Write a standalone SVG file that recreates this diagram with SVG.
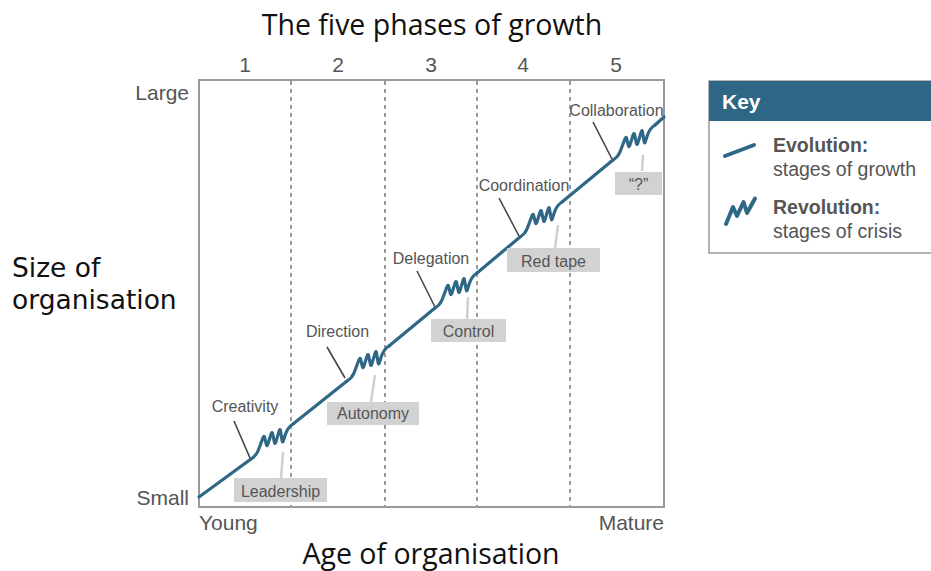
<svg xmlns="http://www.w3.org/2000/svg" width="931" height="571" viewBox="0 0 931 571">
<style>
.big{font-family:"Open Sans","Liberation Sans",sans-serif;font-size:28.5px;fill:#111}
.ylab{font-family:"DejaVu Sans","Open Sans",sans-serif;font-size:26.5px;fill:#111}
.ax{font-family:"Liberation Sans",Arial,sans-serif;font-size:21px;fill:#555}
.lbl{font-family:"Liberation Sans",Arial,sans-serif;font-size:16px;fill:#555;text-anchor:middle}
.box{fill:#d2d2d2}
.lead{stroke:#444;stroke-width:1.6;fill:none}
.leadl{stroke:#cfcfcf;stroke-width:2.5;fill:none}
.curve{stroke:#2f6787;stroke-width:3.2;fill:none;stroke-linecap:round;stroke-linejoin:round}
.dash{stroke:#9a9a9a;stroke-width:2;stroke-dasharray:4 4;fill:none}
.kb{font-family:"Liberation Sans",Arial,sans-serif;font-size:19.5px;font-weight:bold;fill:#555}
.kt{font-family:"Liberation Sans",Arial,sans-serif;font-size:19.5px;fill:#555}
</style>
<defs>
<path id="rev" d="M0,0 Q5,-3 7,-8 L11.8,-20.8 Q13,-24 13.6,-21.6 L15.4,-14.4 Q16,-12 17,-15.2 L20,-24.8 Q21,-28 21.6,-25.2 L23.4,-16.8 Q24,-14 25,-17.4 L28,-27.6 Q29,-31 29.5,-28 L31,-19 Q31.5,-16 32.2,-18 L34.5,-25 Q37,-32 42,-35"/>
</defs>
<rect width="931" height="571" fill="#fff"/>
<text class="big" x="432" y="35" text-anchor="middle" font-size="29.5">The five phases of growth</text>
<g id="phases" class="ax" text-anchor="middle" font-size="20">
<text x="245" y="72">1</text>
<text x="338" y="72">2</text>
<text x="431" y="72">3</text>
<text x="523" y="72">4</text>
<text x="616" y="72">5</text>
</g>
<g id="axes">
<rect x="199" y="80" width="465" height="427" fill="none" stroke="#9a9a9a" stroke-width="2"/>
<line class="dash" x1="291" y1="81" x2="291" y2="506"/>
<line class="dash" x1="385" y1="81" x2="385" y2="506"/>
<line class="dash" x1="477" y1="81" x2="477" y2="506"/>
<line class="dash" x1="570" y1="81" x2="570" y2="506"/>
<text class="ax" x="189" y="100" text-anchor="end">Large</text>
<text class="ax" x="189" y="505" text-anchor="end">Small</text>
<text class="ax" x="199" y="530">Young</text>
<text class="ax" x="664" y="530" text-anchor="end">Mature</text>
<text class="big" x="431" y="564" text-anchor="middle" font-size="29">Age of organisation</text>
<text class="ylab"><tspan x="12" y="277">Size of</tspan><tspan x="12" y="308.5">organisation</tspan></text>
</g>
<g id="connectors">
<line class="lead" x1="234" y1="421" x2="250" y2="458"/>
<line class="leadl" x1="283" y1="452" x2="281" y2="478"/>
<line class="lead" x1="327" y1="347" x2="345" y2="378"/>
<line class="leadl" x1="375" y1="375" x2="371" y2="402"/>
<line class="lead" x1="417" y1="271" x2="435" y2="307"/>
<line class="leadl" x1="468" y1="297" x2="467" y2="319"/>
<line class="lead" x1="499" y1="198" x2="519" y2="236"/>
<line class="leadl" x1="558" y1="225" x2="555" y2="248"/>
<line class="lead" x1="593" y1="122" x2="612" y2="159"/>
<line class="leadl" x1="643" y1="155" x2="642" y2="171"/>
</g>
<g id="curve" class="curve">
<path d="M199,497 L251,459"/>
<use href="#rev" x="251" y="459"/>
<path d="M293,424 L347,381"/>
<use href="#rev" x="347" y="381"/>
<path d="M389,346 L435,308"/>
<use href="#rev" x="435" y="308"/>
<path d="M477,273 L520,237"/>
<use href="#rev" x="520" y="237"/>
<path d="M562,202 L613,160"/>
<use href="#rev" x="613" y="160"/>
<path d="M655,125 L664,117"/>
</g>
<g id="phase1">
<text class="lbl" x="245" y="412">Creativity</text>
<rect class="box" x="234" y="478" width="93" height="24"/>
<text class="lbl" x="280.5" y="496.5">Leadership</text>
</g>
<g id="phase2">
<text class="lbl" x="337.5" y="337">Direction</text>
<rect class="box" x="327" y="402" width="92" height="23"/>
<text class="lbl" x="373" y="419">Autonomy</text>
</g>
<g id="phase3">
<text class="lbl" x="431" y="264">Delegation</text>
<rect class="box" x="431" y="319" width="75" height="23"/>
<text class="lbl" x="468.5" y="336.5">Control</text>
</g>
<g id="phase4">
<text class="lbl" x="524" y="191">Coordination</text>
<rect class="box" x="507" y="248" width="93" height="24"/>
<text class="lbl" x="553.5" y="266.5">Red tape</text>
</g>
<g id="phase5">
<text class="lbl" x="616.5" y="116" font-size="15.5">Collaboration</text>
<rect class="box" x="615" y="172" width="47" height="23"/>
<text class="lbl" x="638.5" y="190">“?”</text>
</g>
<g id="key">
<rect x="709" y="81" width="240" height="172" fill="#fff" stroke="#9a9a9a" stroke-width="1.5"/>
<rect x="709" y="81" width="240" height="40" fill="#2e6786"/>
<text x="722" y="109" font-family="Liberation Sans,Arial,sans-serif" font-size="21" font-weight="bold" fill="#fff">Key</text>
<line x1="725" y1="156" x2="754" y2="145" stroke="#2f6787" stroke-width="4" stroke-linecap="round"/>
<polyline points="726,224 733,207 737,216 743.5,202 747,213 755,198.5" fill="none" stroke="#2f6787" stroke-width="4" stroke-linecap="round" stroke-linejoin="round"/>
<text class="kb" x="773" y="152">Evolution:</text>
<text class="kt" x="773" y="176">stages of growth</text>
<text class="kb" x="773" y="214">Revolution:</text>
<text class="kt" x="773" y="238">stages of crisis</text>
</g>
</svg>
